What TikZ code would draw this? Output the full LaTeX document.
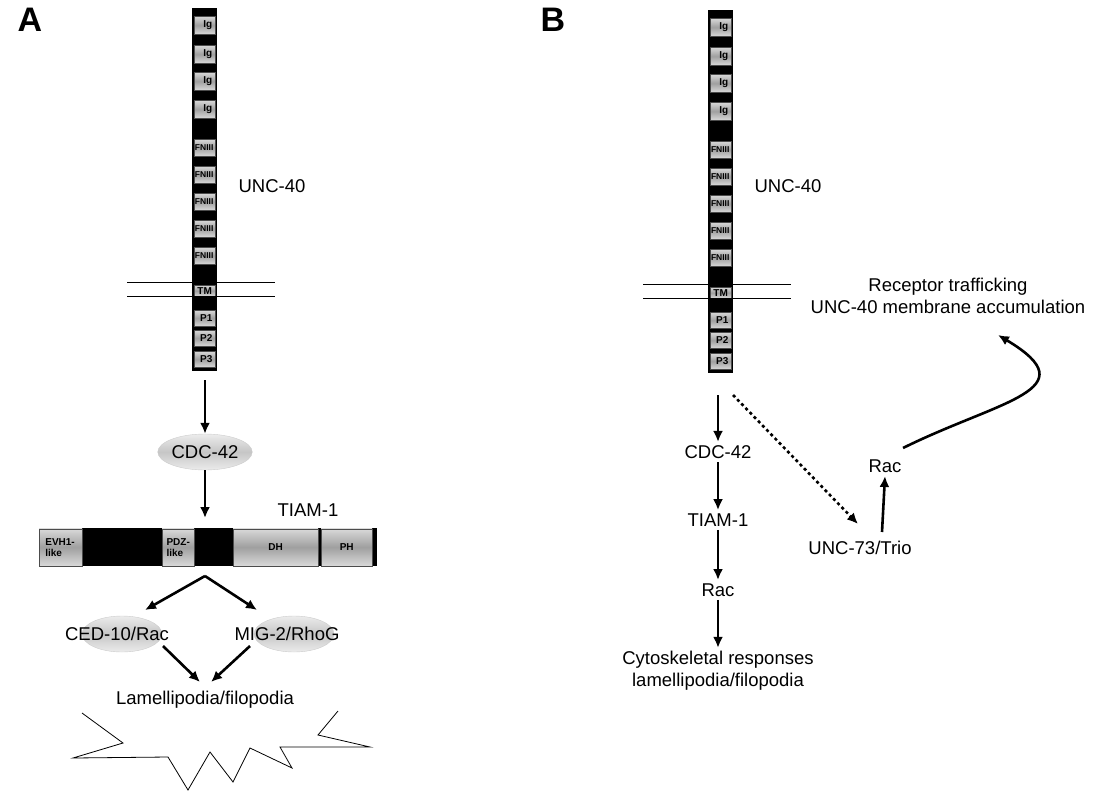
\documentclass[tikz,border=0pt]{standalone}
\usepackage{fontspec}
\setmainfont{Liberation Sans}
\usetikzlibrary{shapes.geometric,arrows.meta}
\begin{document}
\begin{tikzpicture}[x=1pt,y=-1pt,
 lab/.style={font=\fontsize{18.5}{22}\selectfont},
 dom/.style={draw=gray!60!black,line width=0.4pt,top color=gray!30,bottom color=gray!30,middle color=gray!75,inner sep=0pt,font=\bfseries\fontsize{10}{11}\selectfont},
 ell/.style={ellipse,draw=gray!40,top color=gray!15,bottom color=gray!15,middle color=gray!45,minimum width=80pt,minimum height=36pt,inner sep=0pt},
 arr/.style={-{Latex[length=11pt,width=10pt]},line width=2.6pt},
 mem/.style={line width=0.8pt}]
\useasboundingbox (0,0) rectangle (1102,800);
\node[font=\bfseries\fontsize{34}{36}\selectfont] (A) at (30,20) {A};
\node[font=\bfseries\fontsize{34}{36}\selectfont] (B) at (553,20) {B};
\foreach \dx/\dy/\p in {0/0/L,516/2/R}{
 \begin{scope}[shift={(\dx,\dy)}]
 \fill[black] (192,8) rectangle (217,371);
 \foreach \y in {16,45,72,100}{\node[dom,minimum width=21pt,minimum height=18pt,anchor=north west,align=right] at (194,\y) {\hspace*{6pt}Ig};}
 \foreach \y in {139,166,193,220,247}{\node[dom,minimum width=21pt,minimum height=17pt,anchor=north west,font=\bfseries\fontsize{8.5}{9}\selectfont] at (194,\y) {\kern-1pt FNIII};}
 \node[dom,minimum width=21pt,minimum height=11pt,anchor=north west] at (194,285) {TM};
 \foreach \y/\t in {310/P1,330/P2,351/P3}{\node[dom,minimum width=21pt,minimum height=16pt,anchor=north west] at (194,\y) {\hspace*{3pt}\t};}
 \draw[mem] (127,282) -- (275,282);
 \draw[mem] (127,296) -- (275,296);
 \end{scope}}
\node[lab] (u1) at (272,186) {UNC-40};
\node[lab] (u2) at (788,186) {UNC-40};
% Panel A
\coordinate (a0) at (205,380);
\node[ell,lab] (cdc) at (205,452) {CDC-42};
\draw[arr] (a0) -- (cdc.north);
\node[lab] (tiam) at (308,510) {TIAM-1};
\fill[black] (39,528) rectangle (377,566);
\node[dom,minimum width=43pt,minimum height=37pt,anchor=north west,align=left] (evh) at (39,528.5) {EVH1-\\like\hspace*{14pt}};
\node[dom,minimum width=32pt,minimum height=37pt,anchor=north west,align=left] (pdz) at (162,528.5) {PDZ-\\like\hspace*{4pt}};
\node[dom,minimum width=85pt,minimum height=37pt,anchor=north west] (dh) at (233,528.5) {DH};
\node[dom,minimum width=51pt,minimum height=37pt,anchor=north west] (ph) at (321,528.5) {PH};
\coordinate (t1) at (205,518);
\draw[arr] (cdc.south) -- (t1);
\coordinate (br) at (205,576);
\node[ell] (e1) at (122,634) {};
\node[lab] (ced) at (117,634) {CED-10/Rac};
\node[ell] (e2) at (294,634) {};
\node[lab] (mig) at (287,634) {MIG-2/RhoG};
\coordinate (c1) at (145,610); \coordinate (c2) at (257,610);
\draw[arr] (br) -- (c1);
\draw[arr] (br) -- (c2);
\node[lab] (lam) at (205,700) {Lamellipodia/filopodia};
\coordinate (l1) at (163,646); \coordinate (l2) at (250,646);
\draw[arr] (l1) -- (200,682);
\draw[arr] (l2) -- (211,682);
\draw[line width=0.8pt] (82,713) -- (123,743) -- (73,758) -- (168,757) -- (188,790) -- (210,752) -- (233,782) -- (250,748) -- (292,768) -- (280,747) -- (370,747) -- (318,735) -- (338,711);
% Panel B
\coordinate (b0) at (718,395);
\node[lab] (bc) at (718,452) {CDC-42};
\node[lab] (bt) at (718,520) {TIAM-1};
\node[lab] (br1) at (718,590) {Rac};
\node[lab,align=center] (cyt) at (718,671) {Cytoskeletal responses\\lamellipodia/filopodia};
\draw[arr] (b0) -- (bc.north);
\draw[arr] (bc.south) -- (bt.north);
\draw[arr] (bt.south) -- (br1.north);
\draw[arr] (br1.south) -- (cyt.north);
\coordinate (d0) at (733,395);
\node[lab] (trio) at (860,548) {UNC-73/Trio};
\draw[-{Latex[length=11pt,width=10pt]},line width=2.6pt,dash pattern=on 3pt off 3pt] (d0) -- (858,524);
\node[lab] (br2) at (885,466) {Rac};
\draw[arr] (882,532) -- (br2.south);
\node[lab,align=center] (rt) at (948,296) {Receptor trafficking\\UNC-40 membrane accumulation};
\draw[arr] (903,448) .. controls (1000,400) and (1090,390) .. (998,335);
\end{tikzpicture}
\end{document}
